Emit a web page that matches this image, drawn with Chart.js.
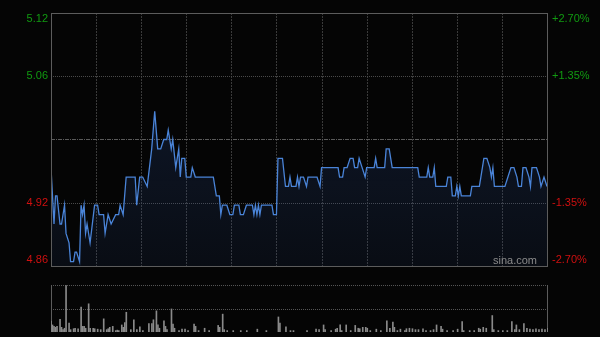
<!DOCTYPE html>
<html><head><meta charset="utf-8">
<script src="https://cdn.jsdelivr.net/npm/chart.js@4/dist/chart.umd.min.js"></script>
<style>
html,body{margin:0;padding:0;background:#050505;width:600px;height:337px;overflow:hidden}
#pc{position:absolute;left:0;top:0}
#vc{position:absolute;left:0;top:275px}
</style></head><body>
<canvas id="pc" width="600" height="275"></canvas>
<canvas id="vc" width="600" height="62"></canvas>
<script>
// ---- data (minute index from 09:30, HK session 330 minutes) ----
const prevClose = 4.99;
const pctTicks = [2.70, 1.35, 0, -1.35, -2.70];
const leftTickLabels = ['5.12', '5.06', '', '4.92', '4.86'];
const rightTickLabels = ['+2.70%', '+1.35%', '', '-1.35%', '-2.70%'];
const sessionMinutes = 330;
const gridEvery = 30;

const priceMinutes = [0,2,3,4,6,7,9,10,12,13,15,16,17,19,20,21,22,23,24,26,29,31,32,35,36,38,40,43,45,46,48,50,56,57,59,61,64,67,69,71,73,75,77,78,80,81,83,85,86,87,89,90,93,94,96,108,110,112,113,114,117,119,121,122,125,126,128,130,134,135,136,137,138,139,140,147,148,150,151,154,156,158,159,160,163,164,165,166,168,170,171,177,179,180,191,192,194,195,197,199,201,202,204,205,207,209,210,215,216,217,222,223,225,227,244,245,250,251,252,254,255,256,263,264,266,267,269,270,271,272,273,279,280,285,286,288,290,292,293,294,295,302,304,306,308,310,311,313,314,316,318,319,320,323,325,326,328,330];
const priceValues = [4.96,4.90,4.93,4.93,4.90,4.90,4.92,4.89,4.88,4.86,4.86,4.87,4.87,4.86,4.92,4.91,4.92,4.89,4.90,4.88,4.92,4.92,4.91,4.91,4.89,4.91,4.90,4.91,4.91,4.92,4.91,4.95,4.95,4.92,4.95,4.95,4.94,4.98,5.02,4.98,4.98,4.99,4.99,5.00,4.98,4.99,4.96,4.98,4.95,4.97,4.97,4.95,4.95,4.96,4.95,4.95,4.93,4.93,4.91,4.92,4.92,4.91,4.91,4.92,4.92,4.91,4.91,4.92,4.92,4.91,4.92,4.91,4.92,4.91,4.92,4.92,4.91,4.91,4.97,4.97,4.94,4.94,4.95,4.94,4.94,4.95,4.94,4.95,4.95,4.94,4.95,4.95,4.94,4.96,4.96,4.95,4.95,4.96,4.96,4.97,4.97,4.96,4.96,4.97,4.96,4.95,4.96,4.96,4.97,4.96,4.96,4.98,4.98,4.96,4.96,4.95,4.95,4.96,4.95,4.95,4.96,4.94,4.94,4.95,4.95,4.93,4.93,4.94,4.93,4.94,4.93,4.93,4.94,4.94,4.95,4.97,4.97,4.96,4.95,4.96,4.94,4.94,4.95,4.96,4.96,4.95,4.94,4.94,4.96,4.96,4.95,4.94,4.96,4.96,4.95,4.94,4.95,4.94];

const volMinutes = [0,1,2,3,4,6,7,8,9,10,12,13,15,16,18,20,21,22,23,25,26,28,29,31,33,35,37,38,39,41,43,44,45,47,48,49,50,53,55,57,59,61,65,67,68,70,71,72,75,76,77,80,81,82,85,87,89,91,95,96,98,102,105,111,112,114,115,117,121,126,130,137,143,151,152,156,159,161,170,176,178,181,182,186,189,190,192,193,196,199,202,204,205,207,209,210,212,216,219,223,225,227,228,230,232,235,236,238,240,242,244,247,249,252,254,256,259,260,263,267,270,273,274,278,281,284,285,287,289,293,294,297,300,303,306,308,309,311,314,316,318,320,322,324,326,328,330];
const volValues  = [23,15,12,10,12,27,10,5,8,99,19,5,7,8,7,53,12,12,8,60,8,8,7,6,5,28,5,7,10,12,3,4,3,15,10,20,42,5,26,5,11,3,18,18,26,45,15,8,24,12,5,49,17,8,3,6,6,3,17,12,3,8,3,14,10,38,5,3,3,3,3,6,3,32,19,11,3,3,3,6,5,15,5,3,6,8,15,3,15,3,14,8,7,10,10,8,3,6,3,24,8,21,10,3,6,3,7,8,7,5,5,7,3,3,5,15,12,6,3,3,6,22,3,3,3,8,6,10,8,35,5,3,3,3,22,5,15,5,18,8,6,5,7,5,6,5,8];

// ---- styling ----
const FONT = '11px "Liberation Sans", Arial, sans-serif';
const GREEN = '#119a11';
const RED = '#d01010';
const pctToPrice = p => prevClose * (1 + p / 100);
const yTop = pctToPrice(pctTicks[0]);
const yBottom = pctToPrice(pctTicks[pctTicks.length - 1]);

function dashedLine(ctx, x1, y1, x2, y2, color, dash) {
  ctx.save();
  ctx.strokeStyle = color; ctx.lineWidth = 1; ctx.setLineDash(dash);
  ctx.beginPath(); ctx.moveTo(x1, y1); ctx.lineTo(x2, y2); ctx.stroke();
  ctx.restore();
}

const priceFrame = {
  id: 'priceFrame',
  beforeDatasetsDraw(chart) {
    const {ctx, chartArea: a, scales: {x, y}} = chart;
    for (let m = gridEvery; m < sessionMinutes; m += gridEvery) {
      const px = Math.round(x.getPixelForValue(m)) + 0.5;
      dashedLine(ctx, px, a.top, px, a.bottom, '#3a3a3a', [2, 1]);
    }
    pctTicks.forEach((p, i) => {
      if (i === 0 || i === pctTicks.length - 1) return;
      const py = Math.round(y.getPixelForValue(pctToPrice(p))) + 0.5;
      if (p === 0) dashedLine(ctx, a.left, py, a.right, py, '#5a5a5a', [4, 1, 1, 1]);
      else dashedLine(ctx, a.left, py, a.right, py, '#4a4a4a', [1, 1]);
    });
  },
  afterDraw(chart) {
    const {ctx, chartArea: a, scales: {y}} = chart;
    ctx.save();
    ctx.strokeStyle = '#5c5c5c'; ctx.lineWidth = 1;
    ctx.strokeRect(Math.round(a.left) + 0.5, Math.round(a.top) + 0.5, Math.round(a.right - a.left), Math.round(a.bottom - a.top));
    ctx.font = FONT; ctx.textBaseline = 'middle';
    pctTicks.forEach((p, i) => {
      let py = y.getPixelForValue(pctToPrice(p));
      py = Math.min(Math.max(py, a.top + 6), a.bottom - 6);
      const col = p > 0 ? GREEN : RED;
      ctx.fillStyle = col;
      ctx.textAlign = 'right';
      ctx.fillText(leftTickLabels[i], a.left - 3, py);
      ctx.textAlign = 'left';
      ctx.fillText(rightTickLabels[i], a.right + 5, py);
    });
    ctx.fillStyle = '#8c8c8c'; ctx.textAlign = 'right';
    ctx.font = '11px "Liberation Sans", Arial, sans-serif';
    ctx.fillText('sina.com', a.right - 10, a.bottom - 5);
    ctx.restore();
  }
};

const pctx = document.getElementById('pc').getContext('2d');
const grad = pctx.createLinearGradient(0, 100, 0, 266);
grad.addColorStop(0, 'rgba(40,70,130,0.28)');
grad.addColorStop(1, 'rgba(40,70,130,0.12)');

new Chart(pctx, {
  type: 'line',
  data: {
    datasets: [{
      data: priceMinutes.map((m, i) => ({x: m, y: priceValues[i]})),
      borderColor: '#4a84d8', borderWidth: 1.3, tension: 0,
      pointRadius: 0, fill: 'start', backgroundColor: grad
    }]
  },
  options: {
    responsive: false, animation: false, events: [],
    layout: {padding: {left: 51, top: 13, right: 53, bottom: 9}},
    plugins: {legend: {display: false}, tooltip: {enabled: false}},
    scales: {
      x: {type: 'linear', min: 0, max: sessionMinutes, display: false},
      y: {min: yBottom, max: yTop, display: false}
    }
  },
  plugins: [priceFrame]
});

const volFrame = {
  id: 'volFrame',
  beforeDatasetsDraw(chart) {
    const {ctx, chartArea: a} = chart;
    const top = Math.round(a.top) + 0.5;
    const mid = Math.round((a.top + a.bottom) / 2) + 0.5;
    dashedLine(ctx, a.left, top, a.right, top, '#555', [1, 1]);
    dashedLine(ctx, a.left, mid, a.right, mid, '#555', [1, 1]);
    ctx.save(); ctx.strokeStyle = '#5c5c5c'; ctx.lineWidth = 1;
    ctx.beginPath();
    ctx.moveTo(Math.round(a.left) + 0.5, a.top); ctx.lineTo(Math.round(a.left) + 0.5, a.bottom);
    ctx.moveTo(Math.round(a.right) - 0.5, a.top); ctx.lineTo(Math.round(a.right) - 0.5, a.bottom);
    ctx.stroke(); ctx.restore();
  }
};

new Chart(document.getElementById('vc'), {
  type: 'bar',
  data: {
    datasets: [{
      data: volMinutes.map((m, i) => ({x: m, y: volValues[i]})),
      backgroundColor: '#8a8a8a', barThickness: 1, borderWidth: 0
    }]
  },
  options: {
    responsive: false, animation: false, events: [],
    layout: {padding: {left: 51, top: 10, right: 52, bottom: 5}},
    plugins: {legend: {display: false}, tooltip: {enabled: false}},
    scales: {
      x: {type: 'linear', min: 0, max: sessionMinutes, offset: false, display: false},
      y: {min: 0, max: 100, display: false}
    }
  },
  plugins: [volFrame]
});
</script>
</body></html>
